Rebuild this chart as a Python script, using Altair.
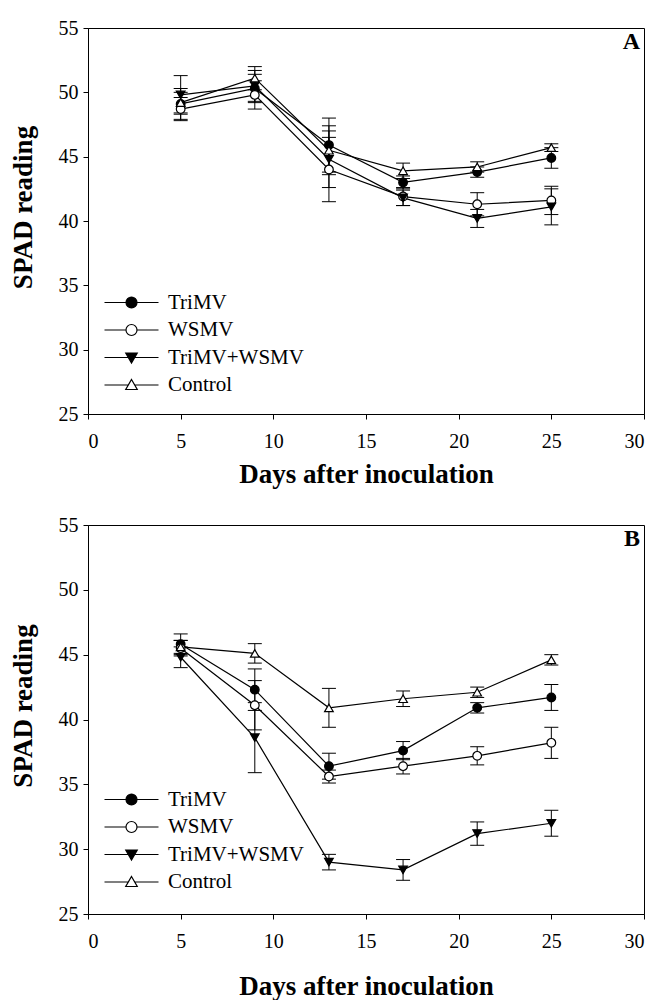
import altair as alt
import pandas as pd

days = [5, 9, 13, 17, 21, 25]
groups = ["TriMV", "WSMV", "TriMV+WSMV", "Control"]

# Panel A values (SPAD reading) and error bars
a_trimv = [49.1, 50.3, 45.9, 43.0, 43.8, 44.9]
a_trimv_err = [1.2, 1.1, 2.1, 0.5, 0.4, 0.8]
a_wsmv = [48.7, 49.8, 44.0, 41.9, 41.3, 41.6]
a_wsmv_err = [0.9, 1.1, 2.5, 0.7, 0.9, 1.1]
a_mix = [49.8, 50.5, 44.8, 41.8, 40.2, 41.1]
a_mix_err = [1.5, 1.2, 2.2, 0.6, 0.7, 1.4]
a_ctrl = [49.2, 51.1, 45.5, 43.9, 44.2, 45.7]
a_ctrl_err = [0.8, 0.9, 1.9, 0.6, 0.4, 0.3]

# Panel B values
b_trimv = [45.8, 42.3, 36.4, 37.6, 40.9, 41.7]
b_trimv_err = [0.8, 1.6, 1.0, 0.7, 0.4, 1.0]
b_wsmv = [45.5, 41.1, 35.6, 36.4, 37.2, 38.2]
b_wsmv_err = [0.6, 1.9, 0.5, 0.6, 0.7, 1.2]
b_mix = [44.8, 38.6, 29.0, 28.4, 31.2, 32.0]
b_mix_err = [0.8, 2.7, 0.6, 0.8, 0.9, 1.0]
b_ctrl = [45.6, 45.1, 40.9, 41.6, 42.1, 44.6]
b_ctrl_err = [0.5, 0.75, 1.5, 0.6, 0.4, 0.4]

x_ticks = [0, 5, 10, 15, 20, 25, 30]
y_ticks = [25, 30, 35, 40, 45, 50, 55]

FONT = "Liberation Serif"
shape_range = ["circle", "circle", "triangle-down", "triangle-up"]
fill_range = ["black", "white", "black", "white"]
stroke_range = ["black", "black", "black", "black"]
legend_shapes = [
    "M-5.4,0H-1.1M1.1,0H5.4M-1.1,0A1.1,1.1,0,1,0,1.1,0A1.1,1.1,0,1,0,-1.1,0Z",
    "M-5.4,0H-1.1M1.1,0H5.4M-1.1,0A1.1,1.1,0,1,0,1.1,0A1.1,1.1,0,1,0,-1.1,0Z",
    "M-5.4,0H-0.6M0.6,0H5.4M-1.15,-0.9L1.15,-0.9L0,1.1Z",
    "M-5.4,0H-0.6M0.6,0H5.4M0,-1.1L1.15,0.9L-1.15,0.9Z",
]


def build_df(series):
    rows = []
    for g, (vals, errs) in zip(groups, series):
        for d, v, e in zip(days, vals, errs):
            rows.append({"day": d, "group": g, "mean": v, "lo": v - e, "hi": v + e, "ghost": 0})
    return pd.DataFrame(rows)


df_a = build_df([(a_trimv, a_trimv_err), (a_wsmv, a_wsmv_err), (a_mix, a_mix_err), (a_ctrl, a_ctrl_err)])
df_b = build_df([(b_trimv, b_trimv_err), (b_wsmv, b_wsmv_err), (b_mix, b_mix_err), (b_ctrl, b_ctrl_err)])

xscale = alt.Scale(domain=[0, 30], nice=False)
yscale = alt.Scale(domain=[25, 55], nice=False)


def panel(df, letter, h, x_title_pad):
    base = alt.Chart(df)
    X = alt.X("day:Q", scale=xscale,
              axis=alt.Axis(values=x_ticks, title="Days after inoculation", titlePadding=x_title_pad))
    Y = alt.Y("mean:Q", scale=yscale,
              axis=alt.Axis(values=y_ticks, title="SPAD reading",
                            titleX=-51, titleY=h / 2 - 14))
    Xp = alt.X("day:Q", scale=xscale)
    lines = base.mark_line(color="black", strokeWidth=1.2).encode(
        x=X, y=Y, detail="group:N", order="day:Q")
    bars = base.mark_rule(color="black", strokeWidth=1).encode(
        x=Xp, y=alt.Y("lo:Q", scale=yscale), y2="hi:Q")
    cap_lo = base.mark_tick(color="black", orient="horizontal", size=14, thickness=1, opacity=1).encode(
        x=Xp, y=alt.Y("lo:Q", scale=yscale))
    cap_hi = base.mark_tick(color="black", orient="horizontal", size=14, thickness=1, opacity=1).encode(
        x=Xp, y=alt.Y("hi:Q", scale=yscale))
    pts = base.mark_point(filled=True, stroke="black", strokeWidth=1.2, size=75, opacity=1).encode(
        x=Xp, y=alt.Y("mean:Q", scale=yscale),
        shape=alt.Shape("group:N", scale=alt.Scale(domain=groups, range=shape_range), legend=None),
        fill=alt.Fill("group:N", scale=alt.Scale(domain=groups, range=fill_range), legend=None),
    )
    leg_cfg = alt.Legend(title=None, orient="none", legendX=33, legendY=264,
                         labelFont=FONT, labelFontSize=21, labelColor="black",
                         labelOffset=26, padding=0, rowPadding=5.5,
                         symbolStrokeWidth=1.2)
    leg = base.mark_point(filled=True, strokeWidth=1.2, size=81, opacity=1, clip=True).encode(
        x=Xp, y=alt.Y("ghost:Q", scale=yscale),
        shape=alt.Shape("group:N", scale=alt.Scale(domain=groups, range=legend_shapes), legend=leg_cfg),
        fill=alt.Fill("group:N", scale=alt.Scale(domain=groups, range=fill_range), legend=leg_cfg),
        stroke=alt.Stroke("group:N", scale=alt.Scale(domain=groups, range=stroke_range), legend=leg_cfg),
    )
    return alt.layer(lines, bars, cap_lo, cap_hi, pts, leg).resolve_scale(
        shape="independent", fill="independent", stroke="independent"
    ).properties(
        width=556, height=h,
        title=alt.TitleParams(letter, anchor="end", frame="group", offset=-36, dx=-4,
                              font=FONT, fontSize=24, fontWeight="bold", color="black"),
    )


chart = alt.vconcat(panel(df_a, "A", 386, 10), panel(df_b, "B", 389, 22), spacing=26).properties(
    padding={"left": 0, "top": 9, "right": 0, "bottom": 0}
).configure_view(stroke="black", strokeWidth=1).configure_axis(
    domainColor="black", tickColor="black", labelColor="black", titleColor="black",
    labelFont=FONT, labelFontSize=20, titleFont=FONT, titleFontSize=27,
    titleFontWeight="bold", grid=False, tickSize=5, labelPadding=12,
    domainWidth=1, tickWidth=1,
).configure_axisY(labelPadding=5)

chart.save("out.html", embed_options={"renderer": "svg", "actions": False})
